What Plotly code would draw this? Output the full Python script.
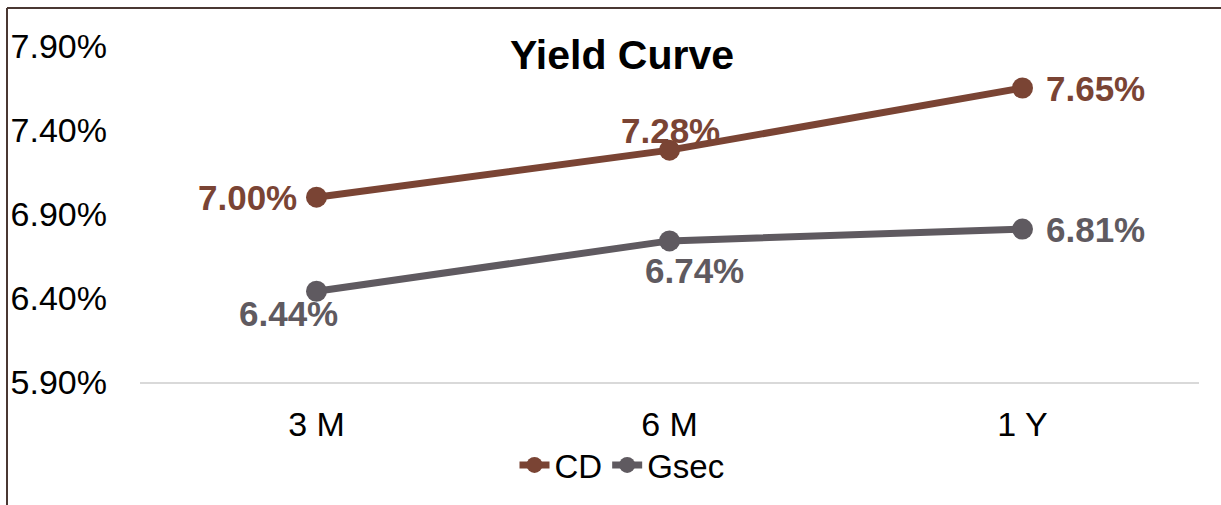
import plotly.graph_objects as go

categories = ["3 M", "6 M", "1 Y"]
cd_values = [7.00, 7.28, 7.65]
gsec_values = [6.44, 6.74, 6.81]
y_ticks = [5.90, 6.40, 6.90, 7.40, 7.90]
y_tick_labels = ["5.90%", "6.40%", "6.90%", "7.40%", "7.90%"]

CD_COLOR = "#7a4434"
GSEC_COLOR = "#5f5a60"
FONT = "Arial, Liberation Sans, sans-serif"

W, H = 1221, 505
L, R, T, B = 140, 22, 46, 123

# label offsets (pixels) relative to each point
cd_label_shift = [(-69, 0), (1, 20), (73, 0)]
gsec_label_shift = [(-28, -22), (25, -30), (73, 0)]

fig = go.Figure()
fig.add_trace(go.Scatter(
    x=categories, y=cd_values, name="CD", mode="lines+markers",
    line=dict(color=CD_COLOR, width=7),
    marker=dict(color=CD_COLOR, size=21), cliponaxis=False,
))
fig.add_trace(go.Scatter(
    x=categories, y=gsec_values, name="Gsec", mode="lines+markers",
    line=dict(color=GSEC_COLOR, width=7),
    marker=dict(color=GSEC_COLOR, size=21), cliponaxis=False,
))

for vals, shifts, col in [(cd_values, cd_label_shift, CD_COLOR),
                          (gsec_values, gsec_label_shift, GSEC_COLOR)]:
    for c, v, (dx, dy) in zip(categories, vals, shifts):
        fig.add_annotation(x=c, y=v, text=f"<b>{v:.2f}%</b>", showarrow=False,
                           xshift=dx, yshift=dy, xanchor="center", yanchor="middle",
                           font=dict(family=FONT, size=35, color=col))

pw, ph = W - L - R, H - T - B
def px(x):
    return (x - L) / pw
def py(y):
    return (H - B - y) / ph

border = "#4a3833"
fig.add_shape(type="line", xref="paper", yref="paper",
              x0=px(7), x1=px(1221), y0=py(8), y1=py(8),
              line=dict(color=border, width=2))
fig.add_shape(type="line", xref="paper", yref="paper",
              x0=px(7), x1=px(7), y0=py(8), y1=py(505),
              line=dict(color=border, width=2))

fig.update_layout(
    width=W, height=H,
    margin=dict(l=L, r=R, t=T, b=B, autoexpand=False),
    paper_bgcolor="white", plot_bgcolor="white",
    font=dict(family=FONT, size=34, color="black"),
    title=dict(text="<b>Yield Curve</b>", font=dict(family=FONT, size=41, color="black"),
               xref="container", yref="container", x=622 / W, y=1 - 55 / H,
               xanchor="center", yanchor="middle"),
    showlegend=True,
    legend=dict(orientation="h", xref="container", yref="container",
                x=622 / W, y=1 - 465 / H, xanchor="center", yanchor="middle",
                font=dict(family=FONT, size=33, color="black"),
                itemwidth=30, tracegroupgap=0, bgcolor="rgba(0,0,0,0)"),
    xaxis=dict(range=[-0.5, 2.5], showgrid=False, zeroline=False, showline=True,
               linecolor="#d9d9d9", linewidth=1.5, ticks="", automargin=False,
               tickfont=dict(size=34, color="black"), ticklabelstandoff=11),
    yaxis=dict(range=[5.90, 7.90], tickvals=y_ticks, ticktext=y_tick_labels,
               showgrid=False, zeroline=False, showline=False, ticks="", automargin=False,
               tickfont=dict(size=34, color="black"), ticklabelstandoff=32),
)

fig.write_html("out.html", config={"displayModeBar": False},
               post_script="document.body.style.margin='0';")
